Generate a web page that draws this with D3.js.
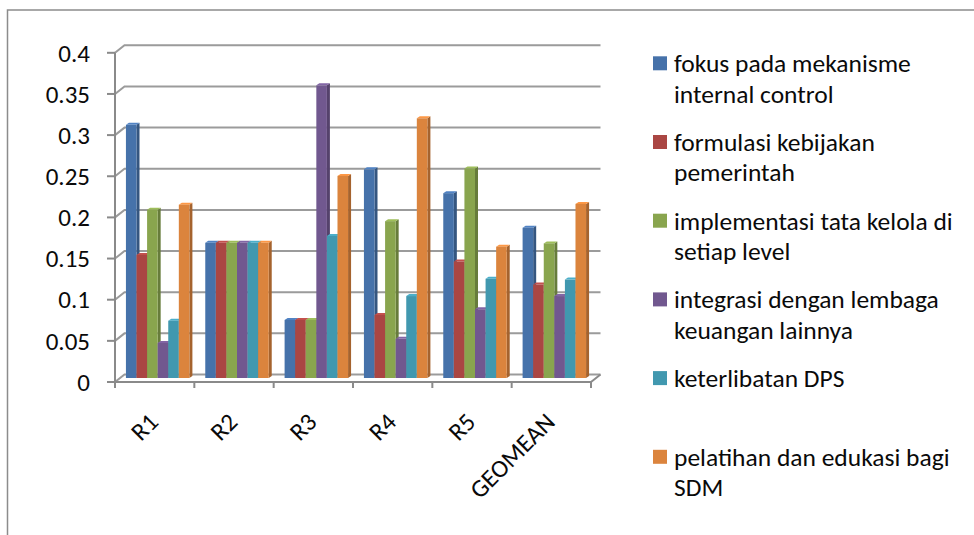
<!DOCTYPE html>
<html>
<head>
<meta charset="utf-8">
<script src="https://cdn.jsdelivr.net/npm/d3@7"></script>
<style>
  html, body { margin: 0; padding: 0; background: #fff; overflow: hidden; }
  svg { display: block; }
</style>
</head>
<body>
<svg id="chart" width="974" height="535"></svg>
<script>
// ---- data ----
const categories = ["R1", "R2", "R3", "R4", "R5", "GEOMEAN"];
const seriesNames = [
  "fokus pada mekanisme internal control",
  "formulasi kebijakan pemerintah",
  "implementasi tata kelola di setiap level",
  "integrasi dengan lembaga keuangan lainnya",
  "keterlibatan DPS",
  "pelatihan dan edukasi bagi SDM"
];
const fokusPadaMekanisme     = [0.310, 0.1667, 0.073, 0.256, 0.227, 0.185];
const formulasiKebijakan     = [0.152, 0.1667, 0.073, 0.079, 0.144, 0.116];
const implementasiTataKelola = [0.207, 0.1667, 0.073, 0.193, 0.257, 0.166];
const integrasiLembaga       = [0.045, 0.1667, 0.358, 0.050, 0.086, 0.102];
const keterlibatanDPS        = [0.072, 0.1667, 0.175, 0.102, 0.123, 0.122];
const pelatihanEdukasi       = [0.213, 0.1667, 0.248, 0.318, 0.162, 0.214];
const yTickValues = [0, 0.05, 0.1, 0.15, 0.2, 0.25, 0.3, 0.35, 0.4];
const yTickLabels = ["0", "0.05", "0.1", "0.15", "0.2", "0.25", "0.3", "0.35", "0.4"];

const seriesValues = [fokusPadaMekanisme, formulasiKebijakan, implementasiTataKelola,
                      integrasiLembaga, keterlibatanDPS, pelatihanEdukasi];
const seriesColors = ["#4672AA", "#AA4643", "#89A54E", "#71588F", "#4198AF", "#DB843D"];

// ---- layout ----
const FONT = "Carlito, Lato, 'Open Sans', sans-serif";
const AXIS_FONT_SIZE = 25;
const LEGEND_FONT_SIZE = 25.5;
const plot = { left: 115, right: 591, top: 52.8, bottom: 382 };
const WALL_DX = 9.5, WALL_DY = 7.5;   // depth of the back wall
const BAR_DX = 3, BAR_DY = 4;         // where the bar row sits in depth
const DEPTH_DX = 3, DEPTH_DY = 2;     // visible thickness of each bar

const svg = d3.select("#chart");

const y = d3.scaleLinear().domain([0, 0.4]).range([plot.bottom, plot.top]);
const x0 = d3.scaleBand().domain(categories).range([plot.left, plot.right]).padding(0);
const x1 = d3.scaleBand().domain(d3.range(seriesNames.length))
  .range([0, x0.bandwidth()]).paddingInner(0).paddingOuter(0.75);

const gridColor = "#9b9b9b";
const axisColor = "#8a8a8a";
const textColor = "#0a0a0a";

// outer frame
svg.append("path")
  .attr("d", "M7.5,535 L7.5,10 L974,10")
  .attr("fill", "none").attr("stroke", "#8c8c8c").attr("stroke-width", 1.5);

// back wall gridlines, folded along the side wall
svg.append("g").selectAll("path").data(yTickValues).join("path")
  .attr("d", v => `M${plot.left},${y(v)} L${plot.left + WALL_DX},${y(v) - WALL_DY} L${plot.right + WALL_DX},${y(v) - WALL_DY}`)
  .attr("fill", "none").attr("stroke", gridColor).attr("stroke-width", 2);

// floor right edge
svg.append("path")
  .attr("d", `M${plot.right},${plot.bottom} L${plot.right + WALL_DX},${plot.bottom - WALL_DY}`)
  .attr("fill", "none").attr("stroke", axisColor).attr("stroke-width", 2);

// bars (3D columns)
const base = y(0) - BAR_DY;
const bw = x1.bandwidth();
const barData = [];
categories.forEach((c, ci) => {
  seriesValues.forEach((vals, si) => {
    barData.push({ c, si, v: vals[ci] });
  });
});
const bars = svg.append("g").selectAll("g").data(barData).join("g");
bars.each(function (d) {
  const g = d3.select(this);
  const xl = x0(d.c) + BAR_DX + x1(d.si);
  const xr = xl + bw;
  const top = y(d.v) - BAR_DY + DEPTH_DY;
  const col = d3.color(seriesColors[d.si]);
  // side face
  g.append("path")
    .attr("d", `M${xr},${top} L${xr + DEPTH_DX},${top - DEPTH_DY} L${xr + DEPTH_DX},${base - DEPTH_DY} L${xr},${base} Z`)
    .attr("fill", col.darker(0.8));
  // top face
  g.append("path")
    .attr("d", `M${xl},${top} L${xl + DEPTH_DX},${top - DEPTH_DY} L${xr + DEPTH_DX},${top - DEPTH_DY} L${xr},${top} Z`)
    .attr("fill", col.brighter(0.4));
  // front face
  g.append("rect")
    .attr("x", xl).attr("y", top).attr("width", bw).attr("height", base - top)
    .attr("fill", col);
});

// value axis (front)
svg.append("line")
  .attr("x1", plot.left).attr("x2", plot.left)
  .attr("y1", y(0.4)).attr("y2", y(0))
  .attr("stroke", axisColor).attr("stroke-width", 2);
svg.append("g").selectAll("line").data(yTickValues).join("line")
  .attr("x1", plot.left - 8).attr("x2", plot.left)
  .attr("y1", v => y(v)).attr("y2", v => y(v))
  .attr("stroke", axisColor).attr("stroke-width", 2);
svg.append("g").selectAll("text").data(yTickValues).join("text")
  .attr("x", 90).attr("y", v => y(v)).attr("dy", "0.35em")
  .attr("text-anchor", "end")
  .attr("font-family", FONT).attr("font-size", AXIS_FONT_SIZE).attr("fill", textColor)
  .text((v, i) => yTickLabels[i]);

// category axis (front)
svg.append("line")
  .attr("x1", plot.left - 8).attr("x2", plot.right)
  .attr("y1", plot.bottom).attr("y2", plot.bottom)
  .attr("stroke", axisColor).attr("stroke-width", 2);
const edges = categories.map(c => x0(c)).concat([plot.right]);
svg.append("g").selectAll("line").data(edges).join("line")
  .attr("x1", d => d).attr("x2", d => d)
  .attr("y1", plot.bottom).attr("y2", plot.bottom + 6)
  .attr("stroke", axisColor).attr("stroke-width", 2);
svg.append("g").selectAll("text").data(categories).join("text")
  .attr("transform", c => `translate(${x0(c) + x0.bandwidth() / 2 + 5},${423.5}) rotate(-45)`)
  .attr("text-anchor", "end")
  .attr("font-family", FONT).attr("font-size", AXIS_FONT_SIZE).attr("fill", textColor)
  .text(c => c);

// legend
const legendX = 653, legendTop = 63.3, legendStep = 78.7, lineH = 30.5, maxW = 292;
const legend = svg.append("g");
seriesNames.forEach((name, i) => {
  const cy = legendTop + i * legendStep;
  legend.append("rect")
    .attr("x", legendX).attr("y", cy - 7).attr("width", 14).attr("height", 14)
    .attr("fill", seriesColors[i]);
  const t = legend.append("text")
    .attr("font-family", FONT).attr("font-size", LEGEND_FONT_SIZE).attr("fill", textColor);
  // wrap words into lines that fit the legend column
  const words = name.split(" ");
  let line = [], lineNo = 0;
  let ts = t.append("tspan").attr("x", legendX + 21).attr("y", cy).attr("dy", "0.35em");
  words.forEach(w => {
    line.push(w);
    ts.text(line.join(" "));
    if (ts.node().getComputedTextLength() > maxW && line.length > 1) {
      line.pop();
      ts.text(line.join(" "));
      line = [w];
      lineNo++;
      ts = t.append("tspan").attr("x", legendX + 21).attr("y", cy + lineNo * lineH)
        .attr("dy", "0.35em").text(w);
    }
  });
});
</script>
</body>
</html>
